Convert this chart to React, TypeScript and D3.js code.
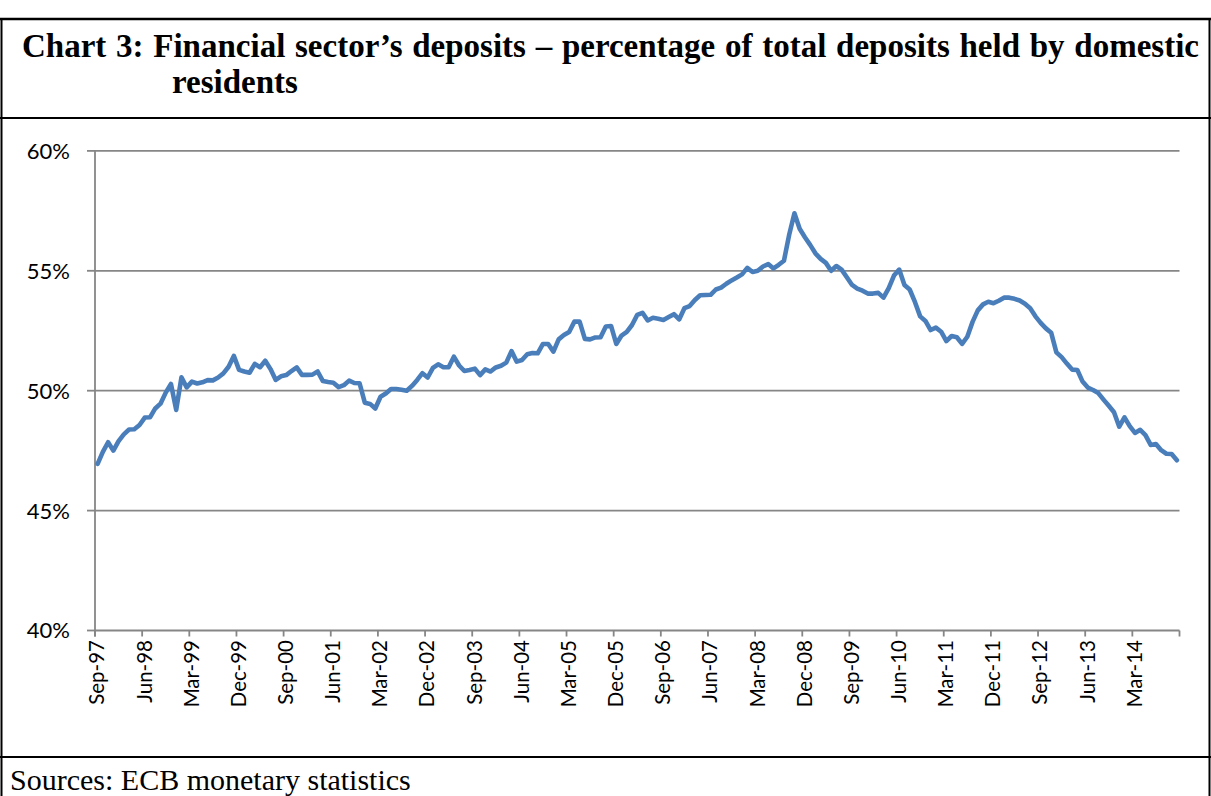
import React, { useRef, useLayoutEffect, useState } from 'react';
import * as d3 from 'd3';

const title1 = "Chart 3: Financial sector\u2019s deposits \u2013 percentage of total deposits held by domestic";
const title2 = "residents";
const sourceText = "Sources: ECB monetary statistics";

const tickLabels = [
  'Sep-97', 'Jun-98', 'Mar-99', 'Dec-99', 'Sep-00', 'Jun-01', 'Mar-02', 'Dec-02',
  'Sep-03', 'Jun-04', 'Mar-05', 'Dec-05', 'Sep-06', 'Jun-07', 'Mar-08', 'Dec-08',
  'Sep-09', 'Jun-10', 'Mar-11', 'Dec-11', 'Sep-12', 'Jun-13', 'Mar-14',
];

const yTicks = [40, 45, 50, 55, 60];

// Monthly values, Sep-97 .. Nov-14 (percent)
const values = [
  46.95, 47.45, 47.85, 47.5, 47.9, 48.18, 48.38, 48.39, 48.57, 48.88,
  48.89, 49.26, 49.46, 49.92, 50.28, 49.2, 50.56, 50.14, 50.38, 50.3,
  50.35, 50.44, 50.43, 50.55, 50.72, 51.0, 51.45, 50.87, 50.8, 50.75,
  51.12, 50.98, 51.25, 50.9, 50.45, 50.6, 50.65, 50.82, 50.97, 50.66,
  50.66, 50.67, 50.8, 50.4, 50.36, 50.33, 50.15, 50.23, 50.42, 50.32,
  50.31, 49.5, 49.45, 49.26, 49.75, 49.88, 50.07, 50.07, 50.04, 50.0,
  50.2, 50.45, 50.73, 50.55, 50.95, 51.1, 50.98, 50.98, 51.42, 51.05,
  50.82, 50.86, 50.92, 50.65, 50.89, 50.8, 50.97, 51.04, 51.17, 51.65,
  51.21, 51.28, 51.52, 51.57, 51.56, 51.95, 51.95, 51.63, 52.14, 52.32,
  52.45, 52.88, 52.88, 52.16, 52.14, 52.22, 52.23, 52.68, 52.7, 51.95,
  52.3, 52.45, 52.74, 53.16, 53.25, 52.93, 53.04, 53.0, 52.95, 53.07,
  53.19, 52.97, 53.44, 53.53, 53.78, 53.98, 53.99, 54.0, 54.22, 54.3,
  54.46, 54.6, 54.72, 54.85, 55.12, 54.95, 55.0, 55.18, 55.28, 55.1,
  55.25, 55.42, 56.5, 57.4, 56.75, 56.4, 56.08, 55.73, 55.5, 55.33,
  55.0, 55.2, 55.05, 54.73, 54.41, 54.26, 54.17, 54.05, 54.05, 54.08,
  53.88, 54.28, 54.8, 55.05, 54.41, 54.22, 53.7, 53.1, 52.91, 52.53,
  52.63, 52.46, 52.07, 52.28, 52.23, 51.95, 52.25, 52.87, 53.35, 53.6,
  53.71, 53.65, 53.75, 53.88, 53.88, 53.83, 53.76, 53.63, 53.44, 53.1,
  52.83, 52.6, 52.42, 51.6, 51.4, 51.13, 50.88, 50.86, 50.38, 50.13,
  50.03, 49.9, 49.63, 49.37, 49.1, 48.5, 48.89, 48.52, 48.24, 48.37,
  48.15, 47.74, 47.78, 47.52, 47.37, 47.36, 47.1,
];

const nCats = 207;
const tickEvery = 9;

export default function App() {
  const W = 1211;
  const H = 796;
  const x = d3.scaleLinear().domain([0, nCats]).range([95, 1179.5]);
  const y = d3.scaleLinear().domain([40, 60]).range([630.5, 150.9]);
  const linePath = d3
    .line<number>()
    .x((_, i) => x(i + 0.5))
    .y((d) => y(d))(values) || '';

  const titleRef = useRef<SVGTextElement>(null);
  const [ws, setWs] = useState(0);
  useLayoutEffect(() => {
    const el = titleRef.current;
    if (!el) return;
    const len = el.getComputedTextLength();
    const spaces = title1.split(' ').length - 1;
    setWs((1177 - len) / spaces);
  }, []);

  const tickIdx = d3.range(0, nCats, tickEvery).concat([nCats]);
  const labelFont = 'Lato, "Open Sans", sans-serif';
  const serif = '"Liberation Serif", "Times New Roman", serif';

  return (
    <div style={{ position: 'absolute', left: 0, top: 0 }}>
      <svg width={W} height={H} style={{ display: 'block', background: '#fff' }}>
        {/* frame */}
        <line x1={0} x2={W} y1={19} y2={19} stroke="#000" strokeWidth={2.5} />
        <line x1={1.5} x2={1.5} y1={19} y2={H} stroke="#000" strokeWidth={2} />
        <line x1={1209.5} x2={1209.5} y1={19} y2={H} stroke="#000" strokeWidth={2} />
        <line x1={0} x2={W} y1={118} y2={118} stroke="#000" strokeWidth={2} />
        <line x1={0} x2={W} y1={757} y2={757} stroke="#000" strokeWidth={2} />

        {/* title */}
        <text
          ref={titleRef}
          x={22}
          y={57}
          fontFamily={serif}
          fontWeight="bold"
          fontSize={33}
          style={{ wordSpacing: `${ws}px` }}
        >
          {title1}
        </text>
        <text x={172} y={93} fontFamily={serif} fontWeight="bold" fontSize={33}>
          {title2}
        </text>

        {/* gridlines & y axis */}
        {yTicks.map((t) => (
          <g key={t}>
            {t > 40 && (
              <line x1={95} x2={1179.5} y1={y(t)} y2={y(t)} stroke="#868686" strokeWidth={1.8} />
            )}
            <line x1={87} x2={95} y1={y(t)} y2={y(t)} stroke="#868686" strokeWidth={1.8} />
            <text
              x={70}
              y={y(t)}
              dy="0.36em"
              textAnchor="end"
              fontFamily={labelFont}
              fontSize={22}
              fill="#000"
            >
              {`${t}%`}
            </text>
          </g>
        ))}
        <line x1={95} x2={95} y1={y(60)} y2={y(40) + 6} stroke="#868686" strokeWidth={1.8} />
        <line x1={95} x2={1179.5} y1={y(40)} y2={y(40)} stroke="#868686" strokeWidth={1.8} />

        {/* x ticks */}
        {tickIdx.map((k) => (
          <line key={k} x1={x(k)} x2={x(k)} y1={y(40)} y2={y(40) + 6} stroke="#868686" strokeWidth={1.8} />
        ))}
        {tickLabels.map((lab, j) => {
          const xx = x(j * tickEvery) + 2;
          const yy = 640;
          return (
            <text
              key={lab}
              transform={`translate(${xx},${yy}) rotate(-90)`}
              dy="0.36em"
              textAnchor="end"
              fontFamily={labelFont}
              fontSize={20.5}
              fill="#000"
            >
              {lab}
            </text>
          );
        })}

        {/* series */}
        <path
          d={linePath}
          fill="none"
          stroke="#4a7ebb"
          strokeWidth={4.6}
          strokeLinejoin="round"
          strokeLinecap="round"
        />

        {/* source */}
        <text x={10} y={790} fontFamily={serif} fontSize={30} fill="#000">
          {sourceText}
        </text>
      </svg>
    </div>
  );
}
